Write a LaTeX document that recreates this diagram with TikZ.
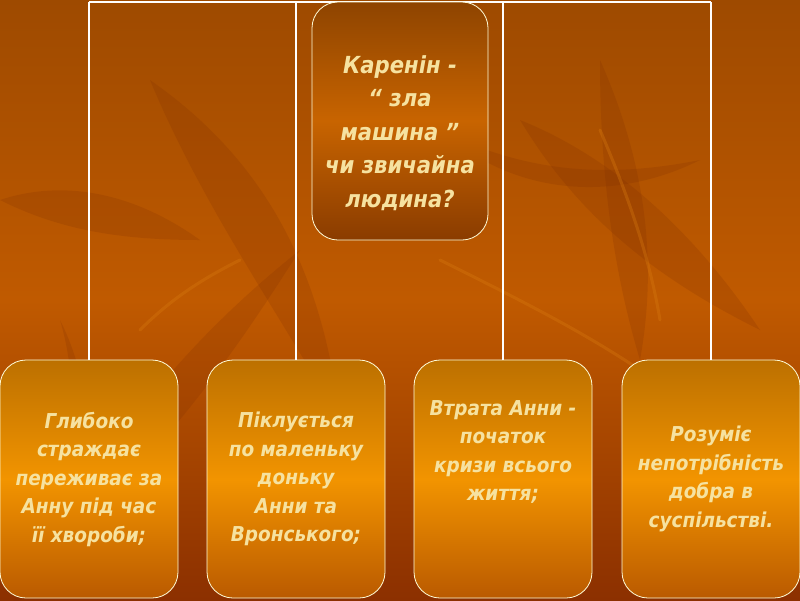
\documentclass[tikz,border=0pt]{standalone}
\usepackage{fontspec}
\setmainfont{DejaVu Sans Condensed}
\newfontfamily\boxfont{DejaVu Sans Condensed}[BoldItalicFont={DejaVu Sans Condensed Bold Oblique}]
\definecolor{bgtop}{HTML}{9E4A00}
\definecolor{bgmid}{HTML}{C05A00}
\definecolor{bgbot}{HTML}{8C3000}
\definecolor{toptop}{HTML}{8E4400}
\definecolor{topmid}{HTML}{C86400}
\definecolor{topbot}{HTML}{8A3C00}
\definecolor{boxtop}{HTML}{BC7000}
\definecolor{boxmid}{HTML}{F29400}
\definecolor{boxbot}{HTML}{BA5A00}
\definecolor{txt}{HTML}{F6E2A0}
\definecolor{leaf}{HTML}{7A2A00}
\definecolor{leaflight}{HTML}{D87A10}
\begin{document}
\begin{tikzpicture}[x=1pt,y=-1pt,
  rootbox/.style={draw=white!85!yellow, line width=0.8pt, rounded corners=26pt,
    minimum width=176pt, minimum height=238pt, inner sep=0pt,
    top color=toptop, bottom color=topbot, middle color=topmid},
  roottext/.style={align=center, text=txt, inner sep=0pt,
    font=\boxfont\bfseries\itshape\fontsize{23.5}{33.5}\selectfont},
  leafbox/.style={draw=white!85!yellow, line width=0.8pt, rounded corners=26pt,
    minimum width=178pt, minimum height=238pt, inner sep=0pt,
    top color=boxtop, bottom color=boxbot, middle color=boxmid,
    align=center, text=txt, font=\boxfont\bfseries\itshape\fontsize{20.5}{28.5}\selectfont},
  link/.style={draw=white, line width=1.3pt},
  deco/.style={fill=leaf, opacity=0.18, draw=none},
  decoline/.style={draw=leaflight, opacity=0.35, line width=3pt, line cap=round}]
\useasboundingbox (0,0) rectangle (800,600);
\shade[top color=bgtop, bottom color=bgbot, middle color=bgmid] (0,0) rectangle (800,600);
% background leaves
\fill[deco] (40,560) .. controls (120,420) and (200,330) .. (300,250) .. controls (230,360) and (160,460) .. cycle;
\fill[deco] (150,80) .. controls (250,150) and (320,250) .. (340,420) .. controls (270,300) and (200,200) .. cycle;
\fill[deco] (520,120) .. controls (620,160) and (700,240) .. (760,330) .. controls (660,280) and (580,220) .. cycle;
\fill[deco] (600,60) .. controls (640,150) and (660,250) .. (640,360) .. controls (610,260) and (600,160) .. cycle;
\fill[deco] (0,200) .. controls (60,180) and (130,190) .. (200,240) .. controls (120,240) and (60,230) .. cycle;
\fill[deco] (440,130) .. controls (520,170) and (600,180) .. (700,160) .. controls (620,200) and (520,200) .. cycle;
\fill[deco] (0,620) .. controls (60,540) and (90,420) .. (60,320) .. controls (110,420) and (90,540) .. cycle;
\draw[decoline] (440,260) .. controls (520,300) and (580,330) .. (640,370);
\draw[decoline] (600,130) .. controls (630,200) and (650,260) .. (660,320);
\draw[decoline] (140,330) .. controls (170,300) and (200,280) .. (240,260);
% boxes
\node[leafbox] (b1) at (89,479) {Глибоко\\страждає\\переживає за\\Анну під час\\її хвороби;};
\node[leafbox] (b2) at (296,479) {Піклується\\по маленьку\\доньку\\Анни та\\Вронського;};
\node[leafbox] (b3) at (503,479) {Втрата Анни -\\початок\\кризи всього\\життя;\\[28pt]};
\node[leafbox] (b4) at (711,479) {Розуміє\\непотрібність\\добра в\\суспільстві.};
% connectors
\coordinate (h1) at (b1.north |- 0,2);
\coordinate (h2) at (b2.north |- 0,2);
\coordinate (h3) at (b3.north |- 0,2);
\coordinate (h4) at (b4.north |- 0,2);
\draw[link] (h1) -- (h4);
\draw[link] (h1) -- (b1.north);
\draw[link] (h2) -- (b2.north);
\draw[link] (h3) -- (b3.north);
\draw[link] (h4) -- (b4.north);
% root
\node[rootbox] (root) at (400,121) {};
\node[roottext] (rootlabel) at (400,133) {Каренін -\\“ зла\\машина ”\\чи звичайна\\людина?};
\end{tikzpicture}
\end{document}
